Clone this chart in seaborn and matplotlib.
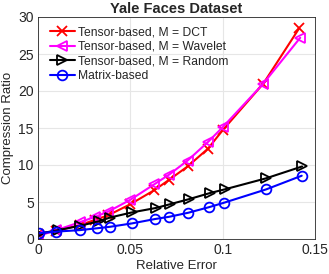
import matplotlib
matplotlib.use("Agg")
import matplotlib.pyplot as plt
import seaborn as sns
import pandas as pd

title = "Yale Faces Dataset"
xlabel = "Relative Error"
ylabel = "Compression Ratio"
labels = ["Tensor-based, M = DCT", "Tensor-based, M = Wavelet",
          "Tensor-based, M = Random", "Matrix-based"]

dct_x = [0.0, 0.010, 0.023, 0.031, 0.038, 0.050, 0.063, 0.071, 0.081, 0.092, 0.100, 0.122, 0.1415]
dct_y = [0.7, 1.1, 1.9, 2.6, 3.2, 4.7, 6.6, 8.0, 9.8, 12.2, 14.7, 21.0, 28.5]
wav_x = [0.0, 0.010, 0.023, 0.031, 0.038, 0.050, 0.063, 0.071, 0.081, 0.092, 0.100, 0.122, 0.142]
wav_y = [0.4, 1.2, 2.3, 3.0, 3.7, 5.3, 7.4, 8.7, 10.6, 13.1, 15.1, 21.0, 27.2]
rnd_x = [0.0, 0.011, 0.023, 0.033, 0.039, 0.051, 0.064, 0.0715, 0.082, 0.093, 0.101, 0.1235, 0.143]
rnd_y = [0.7, 1.2, 1.8, 2.4, 2.9, 3.6, 4.2, 4.7, 5.4, 6.2, 6.7, 8.2, 9.8]
mat_x = [0.0007, 0.010, 0.0227, 0.032, 0.039, 0.0507, 0.0634, 0.071, 0.0814, 0.0926, 0.1007, 0.1235, 0.1428]
mat_y = [0.8, 1.0, 1.2, 1.45, 1.65, 2.1, 2.7, 3.0, 3.55, 4.3, 4.9, 6.7, 8.55]

xticks = [0, 0.05, 0.1, 0.15]
xticklabels = ["0", "0.05", "0.1", "0.15"]
yticks = [0, 5, 10, 15, 20, 25, 30]

sns.set_style("white")
plt.rcParams['font.family'] = ['Liberation Sans', 'DejaVu Sans']

fig = plt.figure(figsize=(3.29, 2.74), dpi=100)
ax = fig.add_axes([38/329, 1-239/274, 277/329, 222/274])

series = [
    (dct_x, dct_y, "#ff0000", "x"),
    (wav_x, wav_y, "#ff00ff", "<"),
    (rnd_x, rnd_y, "#000000", ">"),
    (mat_x, mat_y, "#0000ff", "o"),
]
for (xs, ys, col, mk), lab in zip(series, labels):
    df = pd.DataFrame({"x": xs, "y": ys})
    sns.lineplot(data=df, x="x", y="y", ax=ax, sort=False, color=col, lw=1.5,
                 marker=mk, markersize=7, mfc="none", mec=col, mew=1.3,
                 label=lab)

ax.set_xlim(0, 0.15)
ax.set_ylim(0, 30)
ax.set_xticks(xticks)
ax.set_xticklabels(xticklabels)
ax.set_yticks(yticks)
ax.grid(True, color="#e6e6e6", lw=0.8)
ax.set_axisbelow(True)
for s in ax.spines.values():
    s.set_color("#262626")
    s.set_linewidth(0.6)
ax.tick_params(direction="in", length=3, width=0.6, labelsize=10, colors="#262626", pad=3)
ax.set_title(title, fontsize=10.5, fontweight="bold", pad=3)
ax.set_xlabel(xlabel, fontsize=9.5, color="#262626", labelpad=2)
ax.set_ylabel(ylabel, fontsize=9.5, color="#262626", labelpad=3)
leg = ax.legend(loc="upper left", fontsize=8.7, frameon=False, handlelength=2.1,
                handletextpad=0.2, labelspacing=0.2, borderaxespad=0.3,
                bbox_to_anchor=(0.012, 0.995))
fig.savefig("out.png", dpi=100)
